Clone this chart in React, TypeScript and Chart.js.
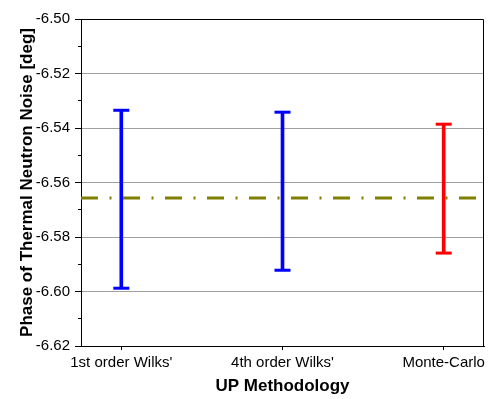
import React, { useEffect, useRef } from "react";
import { Chart, registerables } from "chart.js";

Chart.register(...registerables);

const categories = ["1st order Wilks'", "4th order Wilks'", "Monte-Carlo"];
const categoryPositions = [1, 2, 3];
const lowerBounds = [-6.5988, -6.5922, -6.5859];
const upperBounds = [-6.5335, -6.5342, -6.5386];
const barColors = ["#0000ff", "#0000ff", "#ff0000"];
const referenceValue = -6.5657;
const yMin = -6.62;
const yMax = -6.5;
const yTitle = "Phase of Thermal Neutron Noise [deg]";
const xTitle = "UP Methodology";

const framePlugin = {
  id: "frame",
  afterDraw(chart: any) {
    const { ctx, chartArea } = chart;
    const top = Math.round(chartArea.top) + 0.5;
    const right = Math.round(chartArea.right) - 0.5;
    ctx.save();
    ctx.strokeStyle = "#000";
    ctx.lineWidth = 1;
    ctx.beginPath();
    ctx.moveTo(chartArea.left, top);
    ctx.lineTo(right, top);
    ctx.lineTo(right, chartArea.bottom);
    ctx.stroke();
    ctx.restore();
  },
};

export default function App() {
  const ref = useRef<HTMLCanvasElement | null>(null);
  useEffect(() => {
    if (!ref.current) return;
    Chart.defaults.font.family = "'Liberation Sans', Arial, sans-serif";
    Chart.defaults.color = "#000";
    const isMajor = (v: number) => Math.round(v * 100) % 2 === 0;
    const chart = new Chart(ref.current, {
      type: "bar",
      data: {
        datasets: [
          {
            type: "line",
            data: [
              { x: 0.75, y: referenceValue },
              { x: 3.25, y: referenceValue },
            ],
            borderColor: "#808000",
            borderWidth: 3,
            borderDash: [17, 11.5, 2, 11.5],
            pointRadius: 0,
            order: 0,
          } as any,
          {
            type: "bar",
            data: categoryPositions.map((x, i) => ({ x, y: [lowerBounds[i], upperBounds[i]] })),
            backgroundColor: barColors,
            borderWidth: 0,
            barThickness: 3,
            order: 2,
          } as any,
          {
            type: "scatter",
            data: [
              ...categoryPositions.map((x, i) => ({ x, y: upperBounds[i] })),
              ...categoryPositions.map((x, i) => ({ x, y: lowerBounds[i] })),
            ],
            pointStyle: "line",
            pointRadius: 8,
            pointBorderWidth: 3,
            borderWidth: 3,
            borderColor: [...barColors, ...barColors],
            pointBorderColor: [...barColors, ...barColors],
            showLine: false,
            order: 1,
          } as any,
        ],
      },
      options: {
        responsive: false,
        animation: false,
        devicePixelRatio: 1,
        layout: { padding: { top: 19, right: 7, left: 0, bottom: 0 } },
        plugins: { legend: { display: false }, tooltip: { enabled: false } },
        scales: {
          x: {
            type: "linear",
            min: 0.75,
            max: 3.25,
            offset: false,
            afterBuildTicks: (scale: any) => {
              scale.ticks = categoryPositions.map((v) => ({ value: v }));
            },
            afterFit: (scale: any) => {
              scale.height = 53;
            },
            ticks: {
              autoSkip: false,
              maxRotation: 0,
              padding: 4,
              font: { size: 15 },
              callback: (v: any) => categories[categoryPositions.indexOf(Number(v))] ?? "",
            },
            grid: {
              offset: false,
              drawOnChartArea: false,
              tickLength: 4,
              tickColor: "#000",
            },
            border: { color: "#000", width: 1 },
            title: {
              display: true,
              text: xTitle,
              font: { size: 17, weight: "bold" },
              padding: { top: 0, bottom: 2 },
            },
          },
          y: {
            type: "linear",
            min: yMin,
            max: yMax,
            afterFit: (scale: any) => {
              scale.width = 81;
            },
            ticks: {
              stepSize: 0.01,
              autoSkip: false,
              padding: 5,
              font: { size: 15 },
              callback: (v: any) => (isMajor(Number(v)) ? Number(v).toFixed(2) : ""),
            },
            grid: {
              tickLength: 6,
              tickColor: "#000",
              tickBorderDash: (ctx: any) => (ctx.tick && isMajor(ctx.tick.value) ? [] : [0, 3, 3, 100]),
              color: (ctx: any) => {
                const v = ctx.tick ? ctx.tick.value : 0;
                const r = Math.round(v * 100);
                if (r === -650 || r === -662) return "rgba(0,0,0,0)";
                return isMajor(v) ? "#a0a0a0" : "rgba(0,0,0,0)";
              },
            },
            border: { color: "#000", width: 1 },
            title: {
              display: true,
              text: yTitle,
              font: { size: 17, weight: "bold" },
              padding: { top: 17, bottom: 0 },
            },
          },
        },
      } as any,
      plugins: [framePlugin],
    });
    return () => chart.destroy();
  }, []);
  return (
    <div style={{ position: "absolute", left: 0, top: 0, width: 495, height: 399, background: "#fff" }}>
      <canvas ref={ref} width={495} height={399} style={{ width: 495, height: 399 }} />
    </div>
  );
}
